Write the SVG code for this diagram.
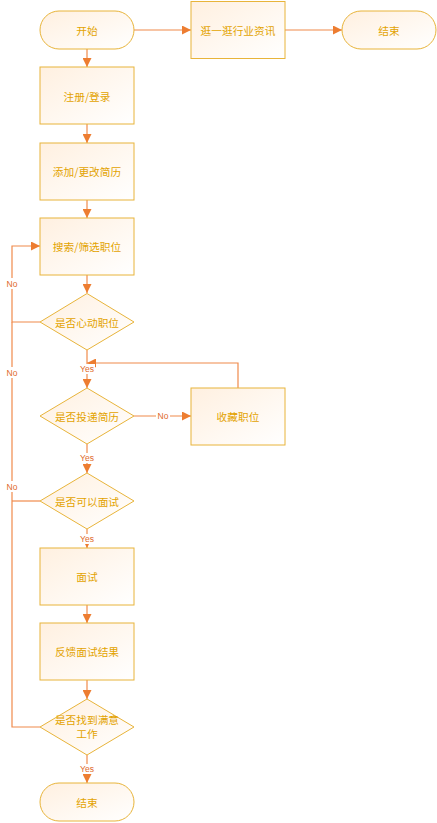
<svg xmlns="http://www.w3.org/2000/svg" width="437" height="823" viewBox="0 0 437 823">
<style>
.n{stroke:#e8b43a;stroke-width:1;fill:url(#g)}
.t{font-family:"Noto Sans CJK SC","Liberation Sans",sans-serif;font-size:10.7px;fill:#e3a300;text-anchor:middle;dominant-baseline:central}
.c{fill:none;stroke:#f08a4b;stroke-width:1.2}
.l{font-family:"Liberation Sans",sans-serif;font-size:8.5px;fill:#e06a2c;text-anchor:middle;dominant-baseline:central}
.lb{fill:#fff}
</style>
<defs>
<linearGradient id="g" x1="0" y1="0" x2="1" y2="1">
<stop offset="0" stop-color="#fff0e0"/>
<stop offset="1" stop-color="#ffffff"/>
</linearGradient>
<marker id="a" markerWidth="9" markerHeight="9" refX="9" refY="4.5" orient="auto" markerUnits="userSpaceOnUse">
<path d="M0,0 L9,4.5 L0,9 z" fill="#ed7d31"/>
</marker>
</defs>
<g id="connectors">
<path class="c" d="M134,30 H191" marker-end="url(#a)"/>
<path class="c" d="M285,30 H342" marker-end="url(#a)"/>
<path class="c" d="M87,49 V67" marker-end="url(#a)"/>
<path class="c" d="M87,124 V143" marker-end="url(#a)"/>
<path class="c" d="M87,200 V218" marker-end="url(#a)"/>
<path class="c" d="M87,275 V293" marker-end="url(#a)"/>
<path class="c" d="M40,322 H12 V246 H40" marker-end="url(#a)"/>
<path class="c" d="M87,350 V388" marker-end="url(#a)"/>
<path class="c" d="M238,388 V363 H87" marker-end="url(#a)"/>
<path class="c" d="M134,416 H191" marker-end="url(#a)"/>
<path class="c" d="M87,444 V473" marker-end="url(#a)"/>
<path class="c" d="M40,501 H12"/>
<path class="c" d="M87,529 V548" marker-end="url(#a)"/>
<path class="c" d="M87,605 V623" marker-end="url(#a)"/>
<path class="c" d="M87,680 V699" marker-end="url(#a)"/>
<path class="c" d="M40,727 H12 V322"/>
<path class="c" d="M87,755 V783" marker-end="url(#a)"/>
<rect class="lb" x="5" y="278" width="14" height="11"/>
<text class="l" x="12" y="284">No</text>
<rect class="lb" x="5" y="367" width="14" height="11"/>
<text class="l" x="12" y="373">No</text>
<rect class="lb" x="5" y="481" width="14" height="11"/>
<text class="l" x="12" y="487">No</text>
<rect class="lb" x="79" y="364" width="16" height="10"/>
<text class="l" x="87" y="369">Yes</text>
<rect class="lb" x="156" y="411" width="14" height="10"/>
<text class="l" x="163" y="416">No</text>
<rect class="lb" x="79" y="453" width="16" height="10"/>
<text class="l" x="87" y="458">Yes</text>
<rect class="lb" x="79" y="534" width="16" height="10"/>
<text class="l" x="87" y="539">Yes</text>
<rect class="lb" x="79" y="764" width="16" height="10"/>
<text class="l" x="87" y="769">Yes</text>
</g>
<g id="start"><rect class="n" x="40" y="11" width="94" height="38" rx="19"/><text class="t" x="87" y="30">开始</text></g>
<g id="browse"><rect class="n" x="191" y="1.5" width="94" height="57"/><text class="t" x="238" y="30">逛一逛行业资讯</text></g>
<g id="end1"><rect class="n" x="342" y="11" width="94" height="38" rx="19"/><text class="t" x="389" y="30">结束</text></g>
<g id="register"><rect class="n" x="40" y="67" width="94" height="57"/><text class="t" x="87" y="96">注册/登录</text></g>
<g id="resume"><rect class="n" x="40" y="143" width="94" height="57"/><text class="t" x="87" y="171">添加/更改简历</text></g>
<g id="search"><rect class="n" x="40" y="218" width="94" height="57"/><text class="t" x="87" y="246">搜索/筛选职位</text></g>
<g id="d1"><path class="n" d="M87,293.5 L134,322 L87,350 L40,322 z"/><text class="t" x="87" y="322">是否心动职位</text></g>
<g id="d2"><path class="n" d="M87,388 L134,416 L87,444 L40,416 z"/><text class="t" x="87" y="416">是否投递简历</text></g>
<g id="collect"><rect class="n" x="191" y="388" width="94" height="57"/><text class="t" x="238" y="416">收藏职位</text></g>
<g id="d3"><path class="n" d="M87,473 L134,501 L87,529 L40,501 z"/><text class="t" x="87" y="501">是否可以面试</text></g>
<g id="interview"><rect class="n" x="40" y="548" width="94" height="57"/><text class="t" x="87" y="576">面试</text></g>
<g id="feedback"><rect class="n" x="40" y="623" width="94" height="57"/><text class="t" x="87" y="651">反馈面试结果</text></g>
<g id="d4"><path class="n" d="M87,699 L134,727 L87,755 L40,727 z"/><text class="t" x="87" y="719">是否找到满意</text><text class="t" x="87" y="733">工作</text></g>
<g id="end2"><rect class="n" x="40" y="783" width="94" height="38" rx="19"/><text class="t" x="87" y="802">结束</text></g>
</svg>
